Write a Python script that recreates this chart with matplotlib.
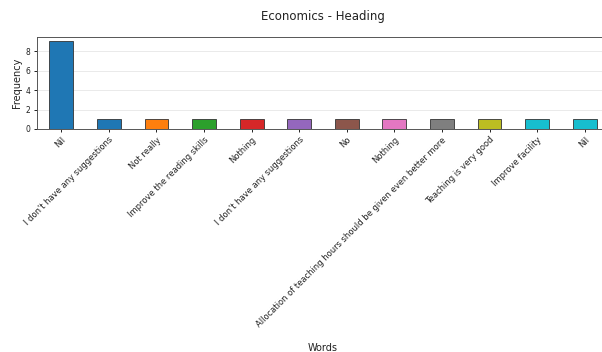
import matplotlib
matplotlib.use("Agg")
import matplotlib.pyplot as plt

words = ["Nil", "I don't have any suggestions", "Not really", "Improve the reading skills",
         "Nothing", "I don't have any suggestions", "No", "Nothing",
         "Allocation of teaching hours should be given even better more",
         "Teaching is very good", "Improve facility", "Nil"]
frequency = [9, 1, 1, 1, 1, 1, 1, 1, 1, 1, 1, 1]
colors = ["#1f77b4", "#1f77b4", "#ff7f0e", "#2ca02c", "#d62728", "#9467bd",
          "#8c564b", "#e377c2", "#7f7f7f", "#bcbd22", "#17becf", "#17becf"]

fig = plt.figure(figsize=(6.02, 3.52), dpi=100)
ax = fig.add_axes([37/602, 1 - 129/352, (609-37)/602, (129-37)/352])
x = list(range(len(words)))
ax.bar(x, frequency, width=0.5, color=colors, edgecolor="#333333", linewidth=0.6, zorder=3)
ax.set_xlim(-0.51, len(words) - 1 + 0.51)
ax.set_ylim(0, 9.45)
ax.set_yticks([0, 2, 4, 6, 8])
ax.yaxis.grid(True, color="#e6e6e6", linewidth=0.6, zorder=0)
ax.set_xticks(x)
ax.set_xticklabels(words, rotation=45, ha="right", rotation_mode="anchor", fontsize=6, color="#222222")
ax.tick_params(axis="y", labelsize=5.5, length=2.5, width=0.6, pad=2, labelcolor="#222222")
ax.tick_params(axis="x", length=2.5, width=0.6, pad=2)
for s in ax.spines.values():
    s.set_color("#555555")
    s.set_linewidth(0.7)
ax.set_title("Economics - Heading", fontsize=8.5, pad=12, color="#222222")
ax.set_ylabel("Frequency", fontsize=7, labelpad=3, color="#222222")
ax.set_xlabel("Words", fontsize=7, color="#222222")
ax.xaxis.set_label_coords((323-37)/(609-37), -(343-129)/(129-37))
fig.savefig("out.png", dpi=100)
